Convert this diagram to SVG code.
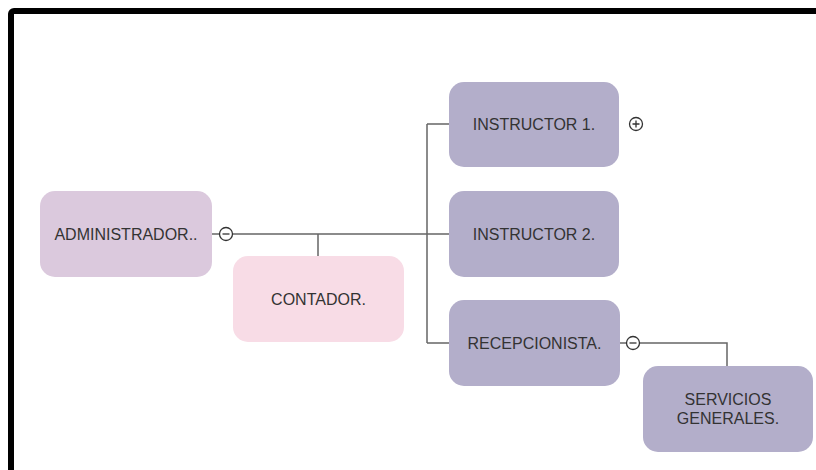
<svg xmlns="http://www.w3.org/2000/svg" width="816" height="470" viewBox="0 0 816 470">
<style>
.n{stroke:none}
.t{font-family:"Liberation Sans",Arial,sans-serif;font-size:16px;fill:#333;text-anchor:middle;dominant-baseline:central}
.c{stroke:#666;stroke-width:1.5;fill:none}
.b{fill:#fff;stroke:#333;stroke-width:1.3}
.s{stroke:#333;stroke-width:1.3}
</style>
<rect width="816" height="470" fill="#fff"/>
<rect x="11" y="11" width="830" height="480" rx="3" fill="none" stroke="#000" stroke-width="6"/>
<g id="connectors">
<path class="c" d="M212 234H219M233 234H449M318 234V256M427 124V343M427 124H449M427 343H449"/>
<path class="c" d="M620 343H626M640 343H727V366"/>
</g>
<g id="admin">
<rect class="n" x="40" y="191" width="172" height="86" rx="15" fill="#dbc9dd"/>
<text class="t" x="126" y="234">ADMINISTRADOR..</text>
<circle class="b" cx="226" cy="234" r="6.5"/>
<path class="s" d="M222.5 234H229.5"/>
</g>
<g id="contador">
<rect class="n" x="233" y="256" width="171" height="86" rx="15" fill="#f8dce6"/>
<text class="t" x="318.5" y="299">CONTADOR.</text>
</g>
<g id="instructor1">
<rect class="n" x="449" y="82" width="170" height="85" rx="15" fill="#b3aeca"/>
<text class="t" x="534" y="124.5">INSTRUCTOR 1.</text>
<circle class="b" cx="636" cy="124" r="6.5"/>
<path class="s" d="M632.5 124H639.5M636 120.5V127.5"/>
</g>
<g id="instructor2">
<rect class="n" x="449" y="191" width="170" height="86" rx="15" fill="#b3aeca"/>
<text class="t" x="534" y="234">INSTRUCTOR 2.</text>
</g>
<g id="recepcionista">
<rect class="n" x="449" y="300" width="171" height="86" rx="15" fill="#b3aeca"/>
<text class="t" x="534.5" y="343">RECEPCIONISTA.</text>
<circle class="b" cx="633" cy="343" r="6.5"/>
<path class="s" d="M629.5 343H636.5"/>
</g>
<g id="servicios">
<rect class="n" x="643" y="366" width="170" height="86" rx="15" fill="#b3aeca"/>
<text class="t" x="728" y="399">SERVICIOS</text>
<text class="t" x="728" y="418">GENERALES.</text>
</g>
</svg>
